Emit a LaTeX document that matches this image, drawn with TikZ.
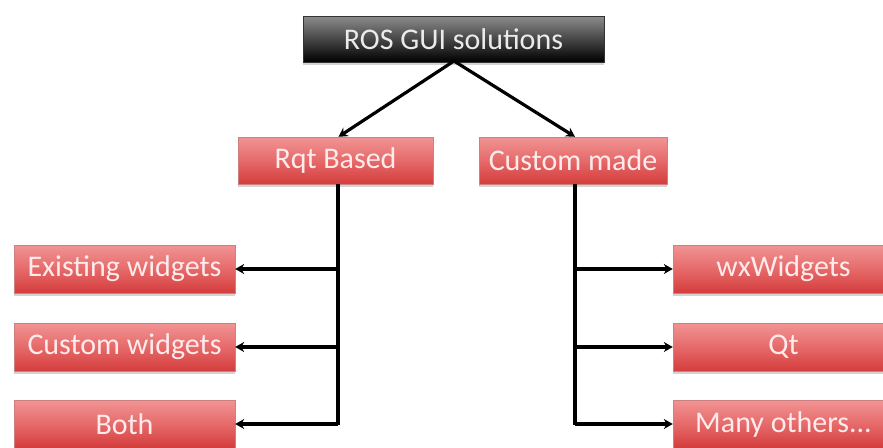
\documentclass[tikz,border=0pt]{standalone}
\usepackage{fontspec}
\setmainfont{Carlito}
\usetikzlibrary{shadows,arrows.meta}
\definecolor{rtop}{HTML}{F29494}
\definecolor{rmid}{HTML}{E66A6A}
\definecolor{rbot}{HTML}{D43C3C}
\begin{document}
\begin{tikzpicture}[x=1pt,y=-1pt,
  redbox/.style={rectangle, inner sep=0pt, top color=rtop, bottom color=rbot, middle color=rmid,
    draw=red!60!black!50, line width=0.4pt, text=white!92!red, font=\fontsize{30}{34}\selectfont,
    drop shadow={shadow xshift=0pt, shadow yshift=-3pt, opacity=0.35}},
  darkbox/.style={rectangle, inner sep=0pt, top color=black!45, bottom color=black, draw=black!80,
    text=white!92!black, font=\fontsize{30}{34}\selectfont,
    drop shadow={shadow xshift=0pt, shadow yshift=-3pt, opacity=0.35}},
  conn/.style={line width=3.2pt, -{Stealth[length=9pt,width=10pt]}},
  plain/.style={line width=3.2pt}]
\useasboundingbox (0,0) rectangle (883,447);
\clip (0,0) rectangle (883,447);
\node[darkbox, minimum width=301pt, minimum height=46pt] (root) at (453.5,39) {ROS GUI solutions};
\node[redbox, minimum width=195pt, minimum height=47pt] (rqt) at (335.5,160.5) {Rqt Based};
\node[redbox, minimum width=188pt, minimum height=47pt] (cm) at (573,160.5) {Custom made};
\node[redbox, minimum width=221pt, minimum height=48pt] (ew) at (124.5,269) {Existing widgets};
\node[redbox, minimum width=221pt, minimum height=48pt] (cw) at (124.5,347) {Custom widgets};
\node[redbox, minimum width=221pt, minimum height=48pt] (both) at (124.5,424) {Both};
\node[redbox, minimum width=221pt, minimum height=48pt] (wx) at (783.5,269) {wxWidgets};
\node[redbox, minimum width=221pt, minimum height=48pt] (qt) at (783.5,347) {Qt};
\node[redbox, minimum width=221pt, minimum height=48pt] (mo) at (783.5,424) {Many others...};
\coordinate (rootb) at (454,61);
\draw[conn] (rootb) -- ([xshift=3pt]rqt.north);
\draw[conn] (rootb) -- ([xshift=2pt]cm.north);
\coordinate (lx) at (338,0);
\coordinate (rx) at (575,0);
\draw[plain] ([xshift=2.5pt]rqt.south) -- (338,425);
\draw[plain] ([xshift=2pt]cm.south) -- (575,425);
\draw[conn] (lx |- ew.east) -- (ew.east);
\draw[conn] (lx |- cw.east) -- (cw.east);
\draw[conn] (338,424) -- (both.east);
\draw[conn] (rx |- wx.west) -- (wx.west);
\draw[conn] (rx |- qt.west) -- (qt.west);
\draw[conn] (575,424) -- (mo.west);
\end{tikzpicture}
\end{document}
